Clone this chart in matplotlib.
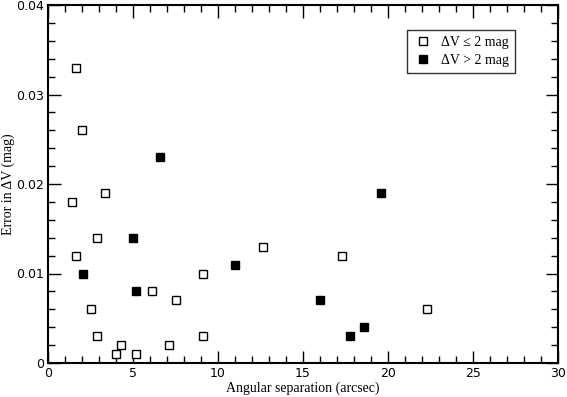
import matplotlib
matplotlib.use("Agg")
import matplotlib.pyplot as plt
from matplotlib.ticker import MultipleLocator

open_x = [1.65, 2.0, 1.4, 3.35, 2.9, 1.65, 2.5, 2.9, 4.0, 4.3, 5.2, 6.1, 7.5, 7.1, 9.1, 9.1, 12.65, 17.3, 22.3]
open_y = [0.033, 0.026, 0.018, 0.019, 0.014, 0.012, 0.006, 0.003, 0.001, 0.002, 0.001, 0.008, 0.007, 0.002, 0.010, 0.003, 0.013, 0.012, 0.006]
fill_x = [2.05, 5.0, 5.2, 6.6, 11.0, 16.0, 17.75, 18.6, 19.6]
fill_y = [0.010, 0.014, 0.008, 0.023, 0.011, 0.007, 0.003, 0.004, 0.019]
x_ticks = [0, 5, 10, 15, 20, 25, 30]
x_labels = ['0', '5', '10', '15', '20', '25', '30']
y_ticks = [0, 0.01, 0.02, 0.03, 0.04]
y_labels = ['0', '0.01', '0.02', '0.03', '0.04']

W, H = 567, 397
fig = plt.figure(figsize=(W/100, H/100), dpi=100)
ax = fig.add_axes([48/W, 1-363/H, (558-48)/W, (363-5)/H])

ax.plot(open_x, open_y, 's', ms=6, mfc='white', mec='black', mew=1.0, ls='none',
        label='ΔV ≤ 2 mag')
ax.plot(fill_x, fill_y, 's', ms=6, mfc='black', mec='black', mew=1.0, ls='none',
        label='ΔV > 2 mag')

ax.set_xlim(0, 30)
ax.set_ylim(0, 0.04)
ax.set_xticks(x_ticks)
ax.set_xticklabels(x_labels)
ax.set_yticks(y_ticks)
ax.set_yticklabels(y_labels)
ax.xaxis.set_minor_locator(MultipleLocator(1))
ax.yaxis.set_minor_locator(MultipleLocator(0.002))

ax.tick_params(which='both', direction='in', top=True, right=True, width=1.0)
ax.tick_params(which='major', length=9, labelsize=9, pad=3)
ax.tick_params(which='minor', length=5)
for lab in ax.get_xticklabels() + ax.get_yticklabels():
    lab.set_family('DejaVu Sans')
for s in ax.spines.values():
    s.set_linewidth(1.5)

ax.set_xlabel('Angular separation (arcsec)', family='Liberation Serif', fontsize=10, labelpad=1)
ax.set_ylabel('Error in ΔV (mag)', family='Liberation Serif', fontsize=10)
ax.yaxis.set_label_coords((15-48)/510, 0.5)

leg = ax.legend(loc='upper right', bbox_to_anchor=(515/W, 1-30/H), bbox_transform=fig.transFigure,
                borderaxespad=0, frameon=True, fancybox=False, edgecolor='black',
                prop={'family': 'Liberation Serif', 'size': 10}, handletextpad=0.6,
                borderpad=0.45, handlelength=1.4, markerscale=0.85, labelspacing=0.35)
leg.get_frame().set_linewidth(1.0)

fig.savefig('out.png', dpi=100)
